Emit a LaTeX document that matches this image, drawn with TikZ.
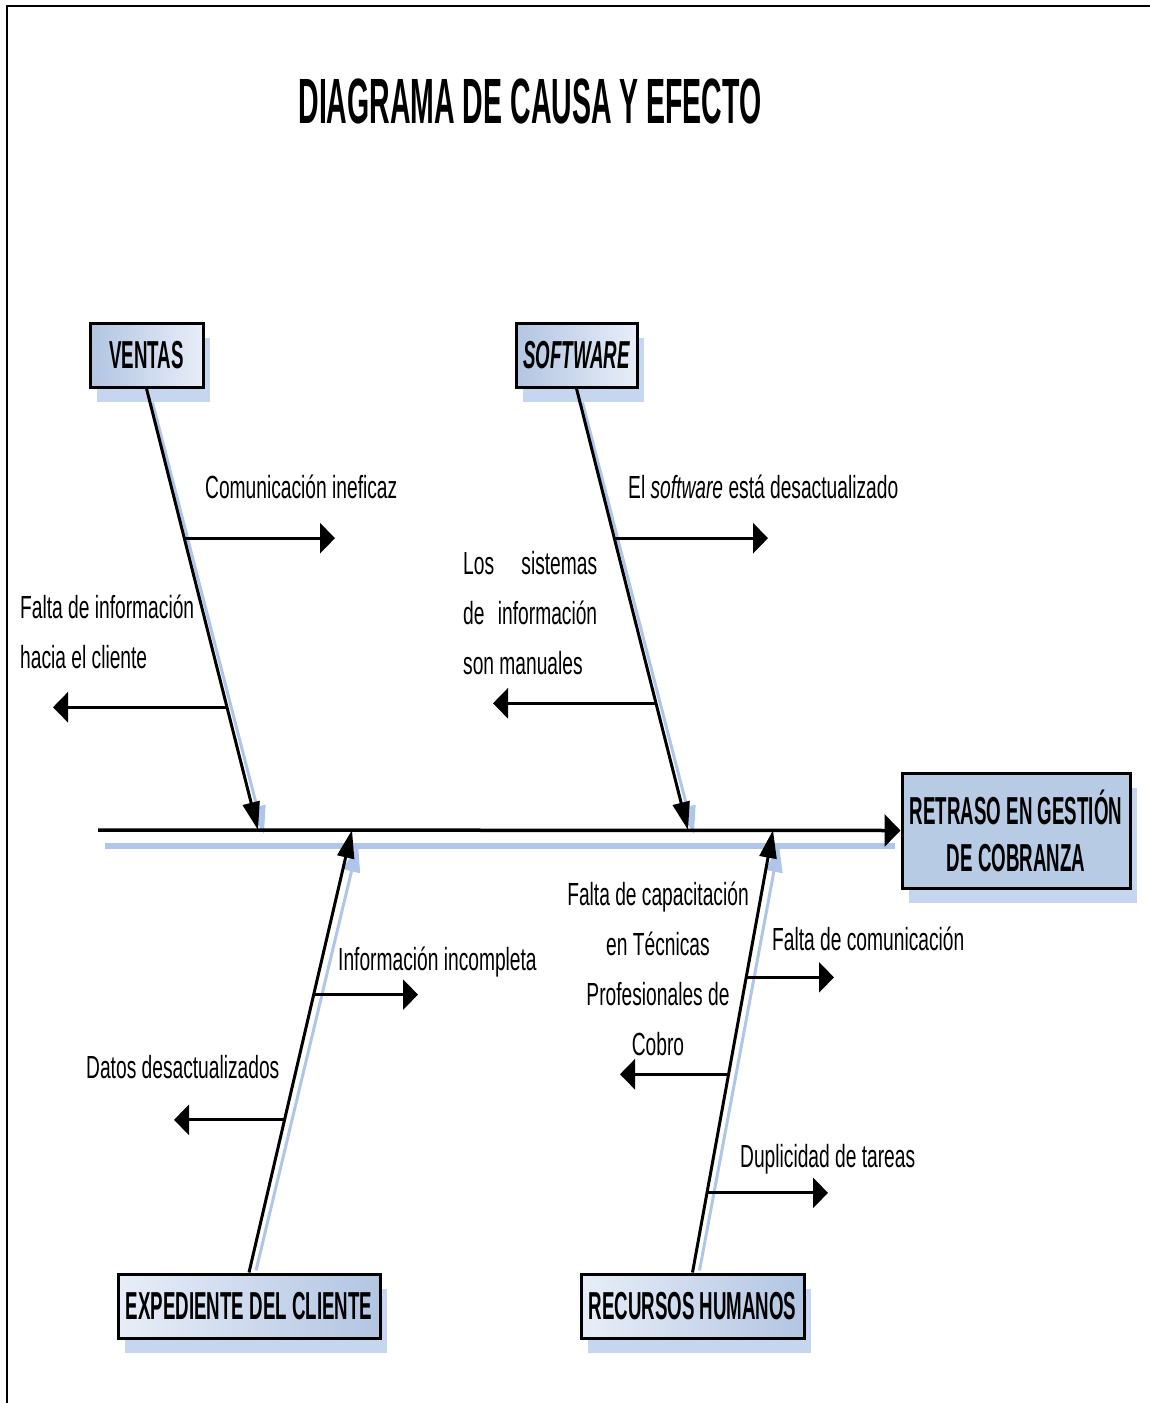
\documentclass[tikz,border=0pt]{standalone}
\usepackage{fontspec}
\setmainfont{Liberation Sans}
\newfontfamily\labelfont[FakeStretch=0.6]{Liberation Sans}
\newfontfamily\boxfont[FakeStretch=0.48]{Liberation Sans}
\newfontfamily\titlefont[FakeStretch=0.445]{Liberation Sans}
\usetikzlibrary{arrows.meta,calc,shadows}

\definecolor{boxdark}{HTML}{B2C5E2}
\definecolor{boxlight}{HTML}{E8EEF8}
\definecolor{effectfill}{HTML}{B8CBE5}
\definecolor{shadowblue}{HTML}{C6D6F0}
\definecolor{shadowline}{HTML}{AFC5EA}

\tikzset{
  causebox/.style={draw, line width=3pt, inner sep=0pt, align=center,
    font=\boxfont\fontsize{39}{47}\selectfont\bfseries,
    general shadow={fill=shadowblue, shadow xshift=7pt, shadow yshift=-15pt}},
  lbl/.style={inner sep=0pt, font=\labelfont\fontsize{32}{50}\selectfont},
  branch/.style={line width=3pt, -{Triangle[length=28pt,width=17pt]}},
  branchshadow/.style={line width=3pt, shadowline, -{Triangle[length=28pt,width=17pt]}},
  subarrow/.style={line width=3pt, -{Triangle[length=15pt,width=30pt]}},
  spinearrow/.style={line width=3.5pt, -{Triangle[length=16pt,width=32pt]}}
}

\begin{document}
\begin{tikzpicture}[x=1pt,y=-1pt]
\useasboundingbox (0,0) rectangle (1150,1403);

% page frame (top and left rules)
\draw[line width=2pt] (1150,6) -- (7,6) -- (7,1403);

% title
\node[inner sep=0pt, anchor=base, font=\titlefont\fontsize{64}{70}\selectfont\bfseries]
  (title) at (530,123) {DIAGRAMA DE CAUSA Y EFECTO};

% spine shadow
\coordinate (spinestart) at (98,830);
\draw[line width=6pt, shadowline] (105,846) -- (895,846);

% category boxes and effect box
\node[causebox, minimum width=113pt, minimum height=64pt, left color=boxdark, right color=boxlight]
  (ventas) at (146.5,355) {VENTAS};
\node[causebox, minimum width=121pt, minimum height=64pt, left color=boxdark, right color=boxlight]
  (software) at (576.5,355) {\itshape SOFTWARE};
\node[causebox, minimum width=262pt, minimum height=64pt, left color=boxlight, right color=boxdark]
  (expediente) at (249,1306) {EXPEDIENTE DEL CLIENTE};
\node[causebox, minimum width=223pt, minimum height=64pt, left color=boxlight, right color=boxdark]
  (recursos) at (692.5,1306) {RECURSOS HUMANOS};
\node[causebox, minimum width=228pt, minimum height=115pt, fill=effectfill]
  (effect) at (1016,830.5) {RETRASO EN GESTIÓN\\DE COBRANZA};

% branch tips on the spine
\coordinate (vtip) at (258,830);
\coordinate (stip) at (688,830);
\coordinate (etip) at (352,830);
\coordinate (rtip) at (773,830);

% branch shadows
\draw[branchshadow] ($(ventas.south)+(6,14)$) -- ($(vtip)+(6,4)$);
\draw[branchshadow] ($(software.south)+(6,14)$) -- ($(stip)+(6,4)$);
\draw[branchshadow] ($(expediente.north)+(7,-2)$) -- ($(etip)+(6,14)$);
\draw[branchshadow] ($(recursos.north)+(7,-2)$) -- ($(rtip)+(6,14)$);

% spine
\draw[spinearrow] (spinestart) -- (effect.west);

% main branches
\draw[branch] (ventas.south) -- (vtip);
\draw[branch] (software.south) -- (stip);
\draw[branch] (expediente.north) -- (etip);
\draw[branch] (recursos.north) -- (rtip);

% points on the branches where the causes leave
\coordinate (v1) at ($(ventas.south)!0.339!(vtip)$);
\coordinate (v2) at ($(ventas.south)!0.722!(vtip)$);
\coordinate (s1) at ($(software.south)!0.339!(stip)$);
\coordinate (s2) at ($(software.south)!0.713!(stip)$);
\coordinate (e1) at ($(expediente.north)!0.628!(etip)$);
\coordinate (e2) at ($(expediente.north)!0.345!(etip)$);
\coordinate (r1) at ($(recursos.north)!0.667!(rtip)$);
\coordinate (r2) at ($(recursos.north)!0.448!(rtip)$);
\coordinate (r3) at ($(recursos.north)!0.180!(rtip)$);

% cause arrows
\coordinate (v1e) at (335,537);
\coordinate (v2e) at (53,706);
\coordinate (s1e) at (768,537);
\coordinate (s2e) at (493,703);
\coordinate (e1e) at (418,995);
\coordinate (e2e) at (174,1121);
\coordinate (r1e) at (834,978);
\coordinate (r2e) at (620,1075);
\coordinate (r3e) at (828,1194);
\draw[subarrow] (v1) -- (v1e |- v1);
\draw[subarrow] (v2) -- (v2e |- v2);
\draw[subarrow] (s1) -- (s1e |- s1);
\draw[subarrow] (s2) -- (s2e |- s2);
\draw[subarrow] (e1) -- (e1e |- e1);
\draw[subarrow] (e2) -- (e2e |- e2);
\draw[subarrow] (r1) -- (r1e |- r1);
\draw[subarrow] (r2) -- (r2e |- r2);
\draw[subarrow] (r3) -- (r3e |- r3);

% cause texts
\node[lbl, anchor=base west] (tv1) at (205,498) {Comunicación ineficaz};
\node[lbl, anchor=base west, text width=220pt, align=flush left] (tv2) at (20,618)
  {Falta de información\\hacia el cliente};
\node[lbl, anchor=base west] (ts1) at (628,498) {El {\itshape software} está desactualizado};
\node[lbl, anchor=base west, text width=134pt, align=flush left] (ts2) at (463,574)
  {Los\hfill sistemas\\de\hfill información\\son manuales};
\node[lbl, anchor=base west] (te1) at (338,970) {Información incompleta};
\node[lbl, anchor=base west] (te2) at (86,1078) {Datos desactualizados};
\node[lbl, anchor=base west] (tr1) at (772,950) {Falta de comunicación};
\node[lbl, anchor=base, text width=240pt, align=flush center] (tr2) at (658,905)
  {Falta de capacitación\\en Técnicas\\Profesionales de\\Cobro};
\node[lbl, anchor=base west] (tr3) at (740,1167) {Duplicidad de tareas};
\end{tikzpicture}
\end{document}
